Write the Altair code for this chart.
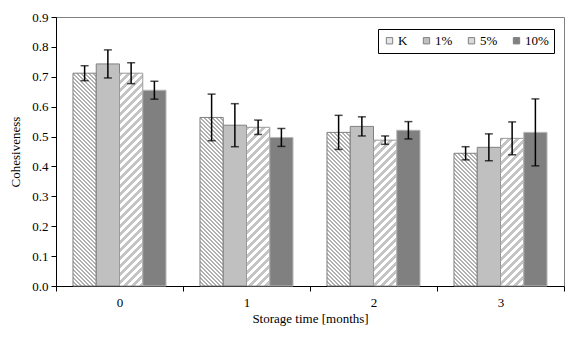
import altair as alt

months = ["0", "1", "2", "3"]
series = ["K", "1%", "5%", "10%"]
values = {
    "K":   [0.712, 0.564, 0.514, 0.444],
    "1%":  [0.743, 0.538, 0.534, 0.464],
    "5%":  [0.712, 0.531, 0.488, 0.494],
    "10%": [0.655, 0.497, 0.521, 0.514],
}
errors = {
    "K":   [0.025, 0.078, 0.057, 0.022],
    "1%":  [0.047, 0.072, 0.032, 0.045],
    "5%":  [0.035, 0.024, 0.014, 0.055],
    "10%": [0.030, 0.030, 0.029, 0.112],
}
y_ticks = [0.0, 0.1, 0.2, 0.3, 0.4, 0.5, 0.6, 0.7, 0.8, 0.9]

# ---- layout / style ----
W_PLOT, H_PLOT = 508, 269
Y_MAX = 0.9
PAD_OUTER = 0.73
BAR_W = (W_PLOT / len(months)) / (len(series) + 2 * PAD_OUTER)
SERIF = "Liberation Serif"
FS = 13

solid = {"1%": "#c0c0c0", "10%": "#808080"}
hatch = {  # direction, period (px), stripe fraction, stripe colour
    "K": ("back", 4.0, 0.28, "#b0b0b0"),
    "5%": ("fwd", 8.0, 0.5, "#c4c4c4"),
}
outline = {"K": "#808080", "1%": "#808080", "5%": "#9a9a9a", "10%": "#b8b8b8"}
legend_fill = ["#e6e6e6", "#c0c0c0", "#dadada", "#808080"]


def hatch_gradient(height_px, width_px, kind, period, frac, colour):
    Wb, Hb = width_px, max(height_px, 1.0)
    R = Wb + Hb
    if kind == "back":      # lines like "\" : D = X - Y
        g = (Wb / R, -Hb / R)
        p1 = (0.0, 1.0)
    else:                   # lines like "/" : D = X + Y
        g = (Wb / R, Hb / R)
        p1 = (0.0, 0.0)
    n2 = g[0] ** 2 + g[1] ** 2
    d = (g[0] / n2, g[1] / n2)
    p2 = (p1[0] + d[0], p1[1] + d[1])
    stops = []
    k = 0
    while k * period < R:
        a = k * period / R
        b = min((k * period + frac * period) / R, 1.0)
        c = min((k + 1) * period / R, 1.0)
        stops += [
            {"offset": a, "color": colour},
            {"offset": b, "color": colour},
            {"offset": b, "color": "#ffffff"},
            {"offset": c, "color": "#ffffff"},
        ]
        k += 1
    return {"gradient": "linear", "x1": p1[0], "y1": p1[1],
            "x2": p2[0], "y2": p2[1], "stops": stops}


rows = []
for s in series:
    for i, m in enumerate(months):
        v = values[s][i]
        e = errors[s][i]
        if s in hatch:
            kind, per, fr, col = hatch[s]
            fill = hatch_gradient(v * H_PLOT / Y_MAX, BAR_W, kind, per, fr, col)
        else:
            fill = solid[s]
        rows.append({"month": m, "series": s, "value": v,
                     "lo": v - e, "hi": v + e,
                     "fill": fill, "outline": outline[s]})

data = alt.Data(values=rows)

x_axis = alt.Axis(title="Storage time [months]", labelAngle=0,
                  tickBand="extent", tickSize=5, labelPadding=5,
                  titlePadding=3)
x_scale = alt.Scale(paddingInner=0, paddingOuter=0)
y_scale = alt.Scale(domain=[0, Y_MAX], nice=False)
y_axis = alt.Axis(title="Cohesiveness", values=y_ticks, format=".1f",
                  labelOverlap=False, labelPadding=3, tickSize=5,
                  titlePadding=9)


def X():
    return alt.X("month:N", sort=months, scale=x_scale, axis=x_axis)


def XO():
    return alt.XOffset("series:N", sort=series,
                       scale=alt.Scale(paddingInner=0, paddingOuter=PAD_OUTER))


base = alt.Chart(data)

bars = base.mark_bar(strokeWidth=1).encode(
    x=X(), xOffset=XO(),
    y=alt.Y("value:Q", scale=y_scale, axis=y_axis),
    fill=alt.Fill("fill:N", scale=None),
    stroke=alt.Stroke("outline:N", scale=None),
)

legend_layer = base.mark_square(opacity=0).encode(
    x=X(), xOffset=XO(),
    y=alt.Y("value:Q", scale=y_scale, axis=y_axis),
    color=alt.Color("series:N", sort=series,
                    scale=alt.Scale(domain=series, range=legend_fill),
                    legend=alt.Legend(
                        title=None, orient="none", legendX=322, legendY=12,
                        direction="horizontal", columns=4,
                        strokeColor="black", fillColor="white", padding=5,
                        symbolType="square", symbolSize=40, symbolOpacity=1,
                        symbolStrokeColor="#808080", symbolStrokeWidth=1,
                        labelOffset=2, columnPadding=12)),
)

err_rule = base.mark_rule(color="black", strokeWidth=1.5).encode(
    x=X(), xOffset=XO(),
    y=alt.Y("lo:Q", scale=y_scale, axis=y_axis),
    y2="hi:Q",
)
cap_lo = base.mark_tick(color="black", thickness=1.5, size=8).encode(
    x=X(), xOffset=XO(),
    y=alt.Y("lo:Q", scale=y_scale, axis=y_axis),
)
cap_hi = base.mark_tick(color="black", thickness=1.5, size=8).encode(
    x=X(), xOffset=XO(),
    y=alt.Y("hi:Q", scale=y_scale, axis=y_axis),
)

chart = alt.layer(bars, legend_layer, err_rule, cap_lo, cap_hi).properties(
    width=W_PLOT, height=H_PLOT,
    autosize=alt.AutoSizeParams(type="none"),
    padding={"left": 56, "top": 17, "right": 11, "bottom": 51},
    background="white",
).configure(
    font=SERIF,
).configure_axis(
    grid=False, domainColor="black", tickColor="black",
    labelFont=SERIF, labelFontSize=FS, labelColor="black",
    titleFont=SERIF, titleFontSize=FS, titleFontWeight="normal",
    titleColor="black",
).configure_legend(
    labelFont=SERIF, labelFontSize=FS, labelColor="black",
    labelFontWeight="normal",
).configure_view(stroke="#808080", strokeWidth=1)

chart.save("out.html", embed_options={"renderer": "svg", "actions": False})
